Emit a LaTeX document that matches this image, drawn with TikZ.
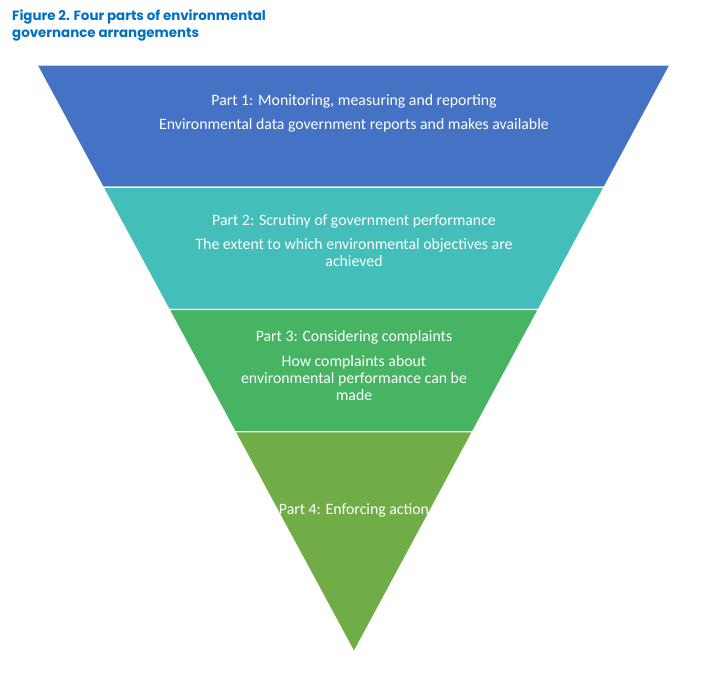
\documentclass[tikz,border=0pt]{standalone}
\usepackage{fontspec}
\setmainfont{Carlito}
\newfontfamily\titlefont{Poppins}
\usepackage{xcolor}
\definecolor{figblue}{RGB}{0,112,192}
\definecolor{bandblue}{RGB}{68,114,196}
\definecolor{bandteal}{RGB}{68,190,184}
\definecolor{bandgreen}{RGB}{70,180,99}
\definecolor{bandolive}{RGB}{112,173,71}
\usetikzlibrary{calc}
\tikzset{
    band/.style={draw=white, line width=1.2pt, line join=round},
    bandtext/.style={text=white, font=\fontsize{15.8}{17}\selectfont, align=center, anchor=base, inner sep=0pt}
}

\begin{document}
\begin{tikzpicture}[x=1pt, y=-1pt]
    \useasboundingbox (0,0) rectangle (702,673);
    % title (base is the last line)
    \node [anchor=base west, inner sep=0pt, align=left, text=figblue,
           font=\titlefont\bfseries\fontsize{13.4}{17}\selectfont] (title) at (12,37)
        {Figure 2. Four parts of environmental\\governance arrangements};
    % corners of the triangle
    \coordinate (tl) at (37,65);
    \coordinate (tr) at (670,65);
    \coordinate (apex) at (354,652);
    \foreach \i/\t in {1/0.2083, 2/0.4166, 3/0.625} {
        \coordinate (l\i) at ($(tl)!\t!(apex)$);
        \coordinate (r\i) at ($(tr)!\t!(apex)$);
    }
    % bands
    \fill [band, fill=bandblue] (tl) -- (tr) -- (r1) -- (l1) -- cycle;
    \fill [band, fill=bandteal] (l1) -- (r1) -- (r2) -- (l2) -- cycle;
    \fill [band, fill=bandgreen] (l2) -- (r2) -- (r3) -- (l3) -- cycle;
    \fill [band, fill=bandolive] (l3) -- (r3) -- (apex) -- cycle;
    \draw [band] (l1) -- (r1) (l2) -- (r2) (l3) -- (r3);
    % texts
    \node [bandtext] (p1) at (354,105) {Part 1: Monitoring, measuring and reporting};
    \node [bandtext] (d1) at (354,129) {Environmental data government reports and makes available};
    \node [bandtext] (p2) at (354,225) {Part 2: Scrutiny of government performance};
    \node [bandtext] (d2) at (354,266) {The extent to which environmental objectives are\\achieved};
    \node [bandtext] (p3) at (354,341) {Part 3: Considering complaints};
    \node [bandtext] (d3) at (354,400) {How complaints about\\environmental performance can be\\made};
    \node [bandtext] (p4) at (354,514) {Part 4: Enforcing action};
\end{tikzpicture}
\end{document}
